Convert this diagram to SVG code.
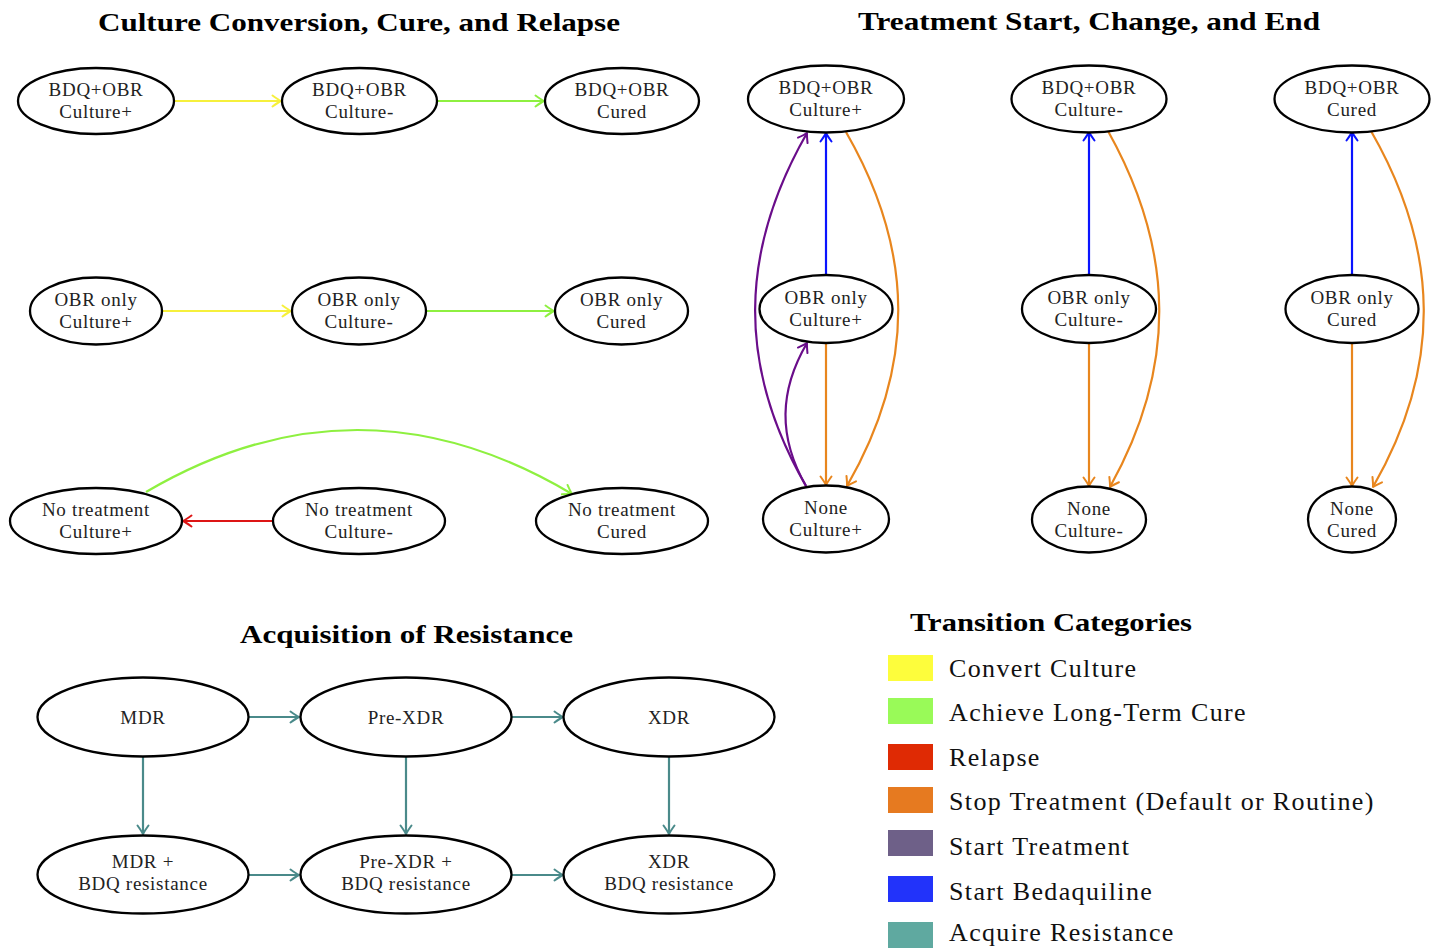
<svg xmlns="http://www.w3.org/2000/svg" width="1434" height="948" viewBox="0 0 1434 948">
<style>
.bg{fill:#fff}
.nd{fill:#fff;stroke:#000;stroke-width:2.3}
.t{font-family:"Liberation Serif","Times New Roman",serif;font-size:19px;letter-spacing:0.7px;fill:#222;text-anchor:middle}
.ttl{font-family:"Liberation Serif","Times New Roman",serif;font-size:25px;font-weight:bold;fill:#000;text-anchor:middle}
.lg{font-family:"Liberation Serif","Times New Roman",serif;font-size:26px;letter-spacing:1.35px;fill:#111}
.e{fill:none;stroke-width:2.2}
.y{stroke:#f6f03c}.g{stroke:#8ef040}.r{stroke:#dd1515}.o{stroke:#e8861e}.p{stroke:#6a0d8a}.b{stroke:#0a14ff}.c{stroke:#4a8a8a}
.ah{fill:none;stroke-width:2;stroke-linecap:round;stroke-linejoin:round}
</style>
<defs>
<marker id="my" viewBox="-12 -8 14 16" markerWidth="14" markerHeight="16" refX="0" refY="0" orient="auto" markerUnits="userSpaceOnUse"><path class="ah" stroke="#f6f03c" d="M-8.5,-5.5 Q-2.5,-1.2 0,0 Q-2.5,1.2 -8.5,5.5"/></marker>
<marker id="mg" viewBox="-12 -8 14 16" markerWidth="14" markerHeight="16" refX="0" refY="0" orient="auto" markerUnits="userSpaceOnUse"><path class="ah" stroke="#8ef040" d="M-8.5,-5.5 Q-2.5,-1.2 0,0 Q-2.5,1.2 -8.5,5.5"/></marker>
<marker id="mr" viewBox="-12 -8 14 16" markerWidth="14" markerHeight="16" refX="0" refY="0" orient="auto" markerUnits="userSpaceOnUse"><path class="ah" stroke="#dd1515" d="M-8.5,-5.5 Q-2.5,-1.2 0,0 Q-2.5,1.2 -8.5,5.5"/></marker>
<marker id="mo" viewBox="-12 -8 14 16" markerWidth="14" markerHeight="16" refX="0" refY="0" orient="auto" markerUnits="userSpaceOnUse"><path class="ah" stroke="#e8861e" d="M-8.5,-5.5 Q-2.5,-1.2 0,0 Q-2.5,1.2 -8.5,5.5"/></marker>
<marker id="mp" viewBox="-12 -8 14 16" markerWidth="14" markerHeight="16" refX="0" refY="0" orient="auto" markerUnits="userSpaceOnUse"><path class="ah" stroke="#6a0d8a" d="M-8.5,-5.5 Q-2.5,-1.2 0,0 Q-2.5,1.2 -8.5,5.5"/></marker>
<marker id="mb" viewBox="-12 -8 14 16" markerWidth="14" markerHeight="16" refX="0" refY="0" orient="auto" markerUnits="userSpaceOnUse"><path class="ah" stroke="#0a14ff" d="M-8.5,-5.5 Q-2.5,-1.2 0,0 Q-2.5,1.2 -8.5,5.5"/></marker>
<marker id="mc" viewBox="-12 -8 14 16" markerWidth="14" markerHeight="16" refX="0" refY="0" orient="auto" markerUnits="userSpaceOnUse"><path class="ah" stroke="#4a8a8a" d="M-8.5,-5.5 Q-2.5,-1.2 0,0 Q-2.5,1.2 -8.5,5.5"/></marker>
</defs>
<rect class="bg" x="0" y="0" width="1434" height="948"/>

<g id="titles">
<text class="ttl" x="359" y="31" textLength="522" lengthAdjust="spacingAndGlyphs">Culture Conversion, Cure, and Relapse</text>
<text class="ttl" x="1089" y="30" textLength="462" lengthAdjust="spacingAndGlyphs">Treatment Start, Change, and End</text>
<text class="ttl" x="406.5" y="643" textLength="333" lengthAdjust="spacingAndGlyphs">Acquisition of Resistance</text>
</g>

<g id="connectors">
<path class="e y" d="M174,101 L281,101" marker-end="url(#my)"/>
<path class="e g" d="M437,101 L544,101" marker-end="url(#mg)"/>
<path class="e y" d="M162,311 L291,311" marker-end="url(#my)"/>
<path class="e g" d="M426,311 L554,311" marker-end="url(#mg)"/>
<path class="e r" d="M273,521 L183,521" marker-end="url(#mr)"/>
<path class="e g" d="M146,492 Q359,367 572,494" marker-end="url(#mg)"/>
<path class="e b" d="M826,275 L826,133" marker-end="url(#mb)"/>
<path class="e o" d="M826,343 L826,485" marker-end="url(#mo)"/>
<path class="e o" d="M846,132 C915,252 916,366 847,486" marker-end="url(#mo)"/>
<path class="e p" d="M806,486 C737,366 739,252 807,133" marker-end="url(#mp)"/>
<path class="e p" d="M806,486 C778,437 779,391 807,343" marker-end="url(#mp)"/>
<path class="e b" d="M1089,276 L1089,132" marker-end="url(#mb)"/>
<path class="e o" d="M1089,343 L1089,486" marker-end="url(#mo)"/>
<path class="e o" d="M1108,131 C1175,251 1177,367 1110,487" marker-end="url(#mo)"/>
<path class="e b" d="M1352,276 L1352,132" marker-end="url(#mb)"/>
<path class="e o" d="M1352,343 L1352,486" marker-end="url(#mo)"/>
<path class="e o" d="M1371,131 C1440,251 1442,367 1373,487" marker-end="url(#mo)"/>
<path class="e c" d="M248,717 L299,717" marker-end="url(#mc)"/>
<path class="e c" d="M512,717 L563,717" marker-end="url(#mc)"/>
<path class="e c" d="M143,756 L143,834" marker-end="url(#mc)"/>
<path class="e c" d="M406,756 L406,834" marker-end="url(#mc)"/>
<path class="e c" d="M669,756 L669,834" marker-end="url(#mc)"/>
<path class="e c" d="M248,875 L299,875" marker-end="url(#mc)"/>
<path class="e c" d="M512,875 L563,875" marker-end="url(#mc)"/>
</g>

<g id="n_bdq_cp"><ellipse class="nd" cx="96" cy="101" rx="78" ry="33"/><text class="t" x="96" y="96">BDQ+OBR</text><text class="t" x="96" y="118">Culture+</text></g>
<g id="n_bdq_cm"><ellipse class="nd" cx="359.5" cy="101" rx="77.5" ry="33"/><text class="t" x="359.5" y="96">BDQ+OBR</text><text class="t" x="359.5" y="118">Culture-</text></g>
<g id="n_bdq_cu"><ellipse class="nd" cx="622" cy="101" rx="77" ry="33"/><text class="t" x="622" y="96">BDQ+OBR</text><text class="t" x="622" y="118">Cured</text></g>
<g id="n_obr_cp"><ellipse class="nd" cx="96" cy="311" rx="66" ry="33.5"/><text class="t" x="96" y="306">OBR only</text><text class="t" x="96" y="328">Culture+</text></g>
<g id="n_obr_cm"><ellipse class="nd" cx="359" cy="311" rx="67" ry="33.5"/><text class="t" x="359" y="306">OBR only</text><text class="t" x="359" y="328">Culture-</text></g>
<g id="n_obr_cu"><ellipse class="nd" cx="621.5" cy="311" rx="66.5" ry="33.5"/><text class="t" x="621.5" y="306">OBR only</text><text class="t" x="621.5" y="328">Cured</text></g>
<g id="n_no_cp"><ellipse class="nd" cx="96" cy="521" rx="86" ry="33"/><text class="t" x="96" y="516">No treatment</text><text class="t" x="96" y="538">Culture+</text></g>
<g id="n_no_cm"><ellipse class="nd" cx="359" cy="521" rx="86" ry="33"/><text class="t" x="359" y="516">No treatment</text><text class="t" x="359" y="538">Culture-</text></g>
<g id="n_no_cu"><ellipse class="nd" cx="622" cy="521" rx="86" ry="33"/><text class="t" x="622" y="516">No treatment</text><text class="t" x="622" y="538">Cured</text></g>

<g id="s2_bdq_cp"><ellipse class="nd" cx="826" cy="99" rx="78" ry="33.5"/><text class="t" x="826" y="94">BDQ+OBR</text><text class="t" x="826" y="116">Culture+</text></g>
<g id="s2_obr_cp"><ellipse class="nd" cx="826" cy="309" rx="66.5" ry="34"/><text class="t" x="826" y="304">OBR only</text><text class="t" x="826" y="326">Culture+</text></g>
<g id="s2_none_cp"><ellipse class="nd" cx="826" cy="519" rx="63" ry="33.5"/><text class="t" x="826" y="514">None</text><text class="t" x="826" y="536">Culture+</text></g>
<g id="s2_bdq_cm"><ellipse class="nd" cx="1089" cy="99" rx="77.5" ry="33.5"/><text class="t" x="1089" y="94">BDQ+OBR</text><text class="t" x="1089" y="116">Culture-</text></g>
<g id="s2_obr_cm"><ellipse class="nd" cx="1089" cy="309" rx="67" ry="34"/><text class="t" x="1089" y="304">OBR only</text><text class="t" x="1089" y="326">Culture-</text></g>
<g id="s2_none_cm"><ellipse class="nd" cx="1089" cy="519.5" rx="57" ry="33"/><text class="t" x="1089" y="514.5">None</text><text class="t" x="1089" y="536.5">Culture-</text></g>
<g id="s2_bdq_cu"><ellipse class="nd" cx="1352" cy="99" rx="77.5" ry="33.5"/><text class="t" x="1352" y="94">BDQ+OBR</text><text class="t" x="1352" y="116">Cured</text></g>
<g id="s2_obr_cu"><ellipse class="nd" cx="1352" cy="309" rx="66.5" ry="34"/><text class="t" x="1352" y="304">OBR only</text><text class="t" x="1352" y="326">Cured</text></g>
<g id="s2_none_cu"><ellipse class="nd" cx="1352" cy="519.5" rx="44" ry="33"/><text class="t" x="1352" y="514.5">None</text><text class="t" x="1352" y="536.5">Cured</text></g>

<g id="r_mdr"><ellipse class="nd" cx="143" cy="717" rx="105.5" ry="39.5"/><text class="t" x="143" y="723.5">MDR</text></g>
<g id="r_prexdr"><ellipse class="nd" cx="406" cy="717" rx="105.5" ry="39.5"/><text class="t" x="406" y="723.5">Pre-XDR</text></g>
<g id="r_xdr"><ellipse class="nd" cx="669" cy="717" rx="105.5" ry="39.5"/><text class="t" x="669" y="723.5">XDR</text></g>
<g id="r_mdr_b"><ellipse class="nd" cx="143" cy="874.5" rx="105.5" ry="39"/><text class="t" x="143" y="868">MDR +</text><text class="t" x="143" y="890">BDQ resistance</text></g>
<g id="r_prexdr_b"><ellipse class="nd" cx="406" cy="874.5" rx="105.5" ry="39"/><text class="t" x="406" y="868">Pre-XDR +</text><text class="t" x="406" y="890">BDQ resistance</text></g>
<g id="r_xdr_b"><ellipse class="nd" cx="669" cy="874.5" rx="105.5" ry="39"/><text class="t" x="669" y="868">XDR</text><text class="t" x="669" y="890">BDQ resistance</text></g>

<g id="legend">
<text class="ttl" x="1051" y="631" textLength="282" lengthAdjust="spacingAndGlyphs">Transition Categories</text>
<rect x="888" y="655" width="45" height="26" fill="#fdfd3c"/><text class="lg" x="949" y="677">Convert Culture</text>
<rect x="888" y="698" width="45" height="26" fill="#99fa58"/><text class="lg" x="949" y="721">Achieve Long-Term Cure</text>
<rect x="888" y="744" width="45" height="26" fill="#df2a04"/><text class="lg" x="949" y="766">Relapse</text>
<rect x="888" y="787" width="45" height="26" fill="#e67a20"/><text class="lg" x="949" y="810">Stop Treatment (Default or Routine)</text>
<rect x="888" y="830" width="45" height="26" fill="#6e6088"/><text class="lg" x="949" y="855">Start Treatment</text>
<rect x="888" y="876" width="45" height="26" fill="#2233fa"/><text class="lg" x="949" y="900">Start Bedaquiline</text>
<rect x="888" y="922" width="45" height="26" fill="#5fa9a0"/><text class="lg" x="949" y="941">Acquire Resistance</text>
</g>
</svg>
